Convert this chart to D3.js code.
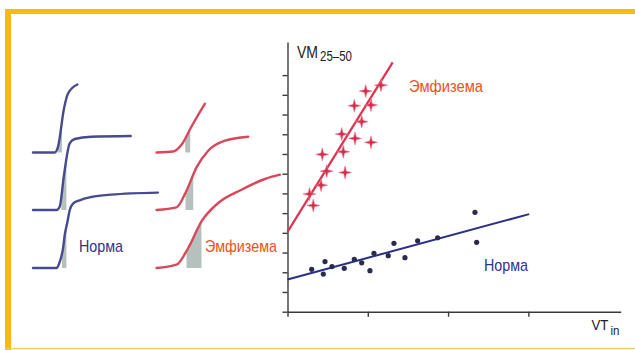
<!DOCTYPE html>
<html>
<head>
<meta charset="utf-8">
<script src="https://cdn.jsdelivr.net/npm/d3@7"></script>
<style>
  body { margin: 0; background: #fff; }
  text { font-family: "Liberation Sans", Arial, sans-serif; }
</style>
</head>
<body>
<div class="canvas"></div>
<script>
// scatter: VT_in (x) against VM25-50 (y)
const emphX = [1.164, 0.974, 1.040, 0.832, 0.924, 0.675, 0.841, 1.040, 0.695, 0.433, 0.488, 0.717, 0.418, 0.274, 0.321];
const emphY = [11.49, 11.19, 10.48, 10.45, 9.64, 9.01, 8.79, 8.59, 8.11, 7.98, 7.13, 7.06, 6.42, 5.97, 5.39];
const normX = [0.301, 0.446, 0.467, 0.554, 0.707, 0.832, 0.924, 1.027, 1.077, 1.255, 1.326, 1.463, 1.621, 1.870, 2.335, 2.356];
const normY = [2.15, 1.91, 2.54, 2.29, 2.20, 2.66, 2.48, 2.08, 2.96, 2.84, 3.47, 2.74, 3.60, 3.75, 5.04, 3.52];
// regression lines, two end points each
const emphFit = [[0, 4.05], [1.31, 12.65]];
const normFit = [[0, 1.63], [3.01, 4.95]];
const xTicks = [0, 1, 2, 3];
const yTicks = [0, 1, 2, 3, 4, 5, 6, 7, 8, 9, 10, 11, 12];

// spirogram traces, [time s, volume L], three per panel
const normTraces = [
  [[0, 0], [0.217, 0], [0.25, 0.056], [0.31, 0.44], [0.35, 0.59], [0.444, 0.68]],
  [[0, 0], [0.234, 0], [0.267, 0.033], [0.31, 0.35], [0.367, 0.667], [0.417, 0.71], [0.584, 0.733], [0.977, 0.74]],
  [[0, 0], [0.234, 0], [0.267, 0.06], [0.30, 0.194], [0.317, 0.327], [0.344, 0.46], [0.367, 0.577], [0.40, 0.644], [0.467, 0.677], [0.584, 0.71], [0.784, 0.734], [1.25, 0.754]]
];
const emphTraces = [
  [[0, 0], [0.167, 0.01], [0.25, 0.077], [0.35, 0.26], [0.417, 0.377], [0.484, 0.487]],
  [[0, 0], [0.20, 0.026], [0.30, 0.193], [0.40, 0.426], [0.517, 0.593], [0.684, 0.693], [0.917, 0.733]],
  [[0, 0], [0.20, 0.033], [0.317, 0.20], [0.45, 0.466], [0.617, 0.65], [0.85, 0.783], [1.084, 0.89], [1.234, 0.933]]
];
// shaded time windows under each trace
const normShade = [[0.25, 0.29], [0.284, 0.334], [0.29, 0.334]];
const emphShade = [[0.287, 0.337], [0.29, 0.367], [0.30, 0.45]];

const width = 635, height = 350;
const svg = d3.select('.canvas')
  .append('svg')
  .attr('width', width)
  .attr('height', height);

// frame
svg.append('rect').attr('x', 5).attr('y', 9).attr('width', width - 5).attr('height', 5).attr('fill', '#fcb813');
svg.append('rect').attr('x', 5).attr('y', 9).attr('width', 6).attr('height', height - 9).attr('fill', '#fcb813');
svg.append('rect').attr('x', 5).attr('y', 348).attr('width', width - 5).attr('height', 1.2).attr('fill', '#f6cd5a');

const traceBase = [152.5, 210, 268];

function drawSpiro(traces, shades, x0, color, tag) {
  const t = d3.scaleLinear().domain([0, 1]).range([x0, x0 + 100]);
  const v = d3.scaleLinear().domain([0, 1]).range([0, -100]);
  const line = d3.line().x(d => t(d[0])).y(d => v(d[1])).curve(d3.curveMonotoneX);
  const area = d3.area().x(d => t(d[0])).y0(v(0)).y1(d => v(d[1])).curve(d3.curveMonotoneX);

  traces.forEach((tr, i) => {
    const g = svg.append('g').attr('transform', `translate(0, ${traceBase[i]})`);
    const id = `clip-${tag}-${i}`;
    g.append('clipPath').attr('id', id)
      .append('rect')
      .attr('x', t(shades[i][0])).attr('y', -120)
      .attr('width', t(shades[i][1]) - t(shades[i][0])).attr('height', 122);
    g.append('path').datum(tr)
      .attr('d', area)
      .attr('clip-path', `url(#${id})`)
      .attr('fill', '#a3b2ab').attr('opacity', 0.8);
    g.append('path').datum(tr)
      .attr('d', line)
      .attr('fill', 'none')
      .attr('stroke', color)
      .attr('stroke-width', 2.4)
      .attr('stroke-linecap', 'round');
  });
}

drawSpiro(normTraces, normShade, 33, '#474b8e', 'n');
drawSpiro(emphTraces, emphShade, 156.5, '#d9485a', 'e');

// narrow lettering: squeeze text to the measured width
function label(x0, y0, size, color, str, len) {
  return svg.append('text').attr('x', x0).attr('y', y0)
    .attr('font-size', size).attr('fill', color)
    .attr('textLength', len).attr('lengthAdjust', 'spacingAndGlyphs')
    .text(str);
}

label(79, 251.5, 17, '#2e3192', 'Норма', 44);
label(205, 251.5, 17, '#f04e23', 'Эмфизема', 72);

// scatter plot
const x = d3.scaleLinear().domain([0, 4.15]).range([287.5, 620.7]);
const y = d3.scaleLinear().domain([0, 13.68]).range([311.7, 42]);

const yAxis = svg.append('g')
  .attr('transform', `translate(${x(0)}, 0)`)
  .call(d3.axisLeft(y).tickValues(yTicks).tickSize(5).tickSizeOuter(0).tickFormat(''));
const xAxis = svg.append('g')
  .attr('transform', `translate(0, ${y(0)})`)
  .call(d3.axisBottom(x).tickValues(xTicks).tickSize(5).tickSizeOuter(0).tickFormat(''));
[xAxis, yAxis].forEach(a => {
  a.selectAll('path, line').attr('stroke', '#3a3a3a').attr('stroke-width', 1.4);
});

const fitLine = d3.line().x(d => x(d[0])).y(d => y(d[1]));
svg.append('path').datum(emphFit).attr('d', fitLine)
  .attr('stroke', '#e0314f').attr('stroke-width', 2.2).attr('fill', 'none');
svg.append('path').datum(normFit).attr('d', fitLine)
  .attr('stroke', '#2b2f86').attr('stroke-width', 2).attr('fill', 'none');

const star4 = {
  draw(ctx, size) {
    const r = Math.sqrt(size), w = r * 0.2;
    ctx.moveTo(0, -r); ctx.lineTo(w, -w); ctx.lineTo(r, 0); ctx.lineTo(w, w);
    ctx.lineTo(0, r); ctx.lineTo(-w, w); ctx.lineTo(-r, 0); ctx.lineTo(-w, -w);
    ctx.closePath();
  }
};
svg.append('g').selectAll('path')
  .data(emphX.map((d, i) => [d, emphY[i]]))
  .join('path')
  .attr('transform', d => `translate(${x(d[0])}, ${y(d[1])})`)
  .attr('d', d3.symbol().type(star4).size(42))
  .attr('fill', '#d82a4c')
  .attr('stroke', '#e8788c').attr('stroke-width', 0.6);

svg.append('g').selectAll('circle')
  .data(normX.map((d, i) => [d, normY[i]]))
  .join('circle')
  .attr('cx', d => x(d[0])).attr('cy', d => y(d[1]))
  .attr('r', 2.6)
  .attr('fill', '#2a2b4a');

// axis titles, subscripts as separate texts
label(297, 58, 17, '#222', 'VM', 21);
label(320, 61, 14, '#222', '25–50', 32);
label(591.5, 329.5, 15, '#222', 'VT', 17);
label(610.5, 334.5, 13, '#222', 'in', 9);

label(409, 91.5, 17, '#f04e23', 'Эмфизема', 74);
label(484, 270.5, 17, '#2e3192', 'Норма', 44);
</script>
</body>
</html>
